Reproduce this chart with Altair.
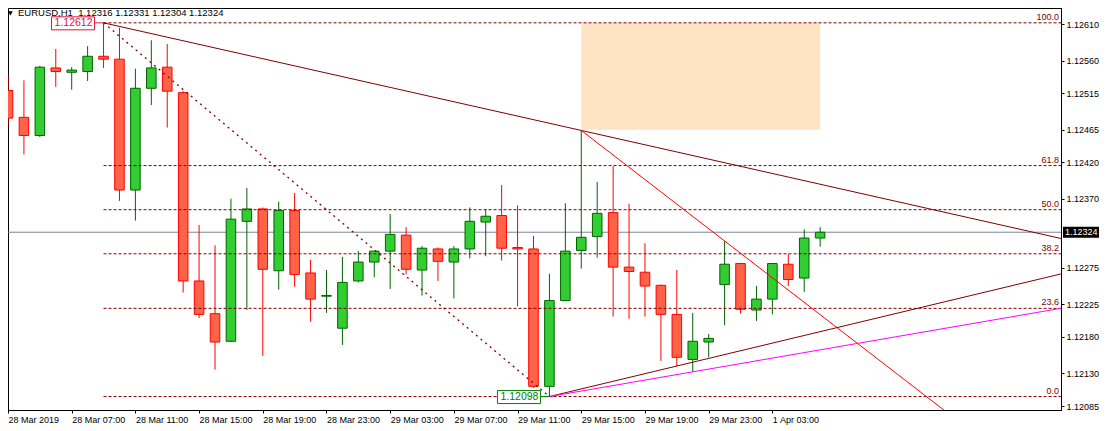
import json
import altair as alt
import pandas as pd

# ---------------- data ----------------
header_text = "EURUSD,H1\u00a0\u00a01.12316 1.12331 1.12304 1.12324"

tick_bar_labels = ["28 Mar 2019", "28 Mar 07:00", "28 Mar 11:00", "28 Mar 15:00",
                   "28 Mar 19:00", "28 Mar 23:00", "29 Mar 03:00", "29 Mar 07:00",
                   "29 Mar 11:00", "29 Mar 15:00", "29 Mar 19:00", "29 Mar 23:00",
                   "1 Apr 03:00"]
tick_bars = [0, 4, 8, 12, 16, 20, 24, 28, 32, 36, 40, 44, 48]

price_ticks = [1.12610, 1.12560, 1.12515, 1.12465, 1.12420, 1.12370,
               1.12275, 1.12225, 1.12180, 1.12130, 1.12085]

opens = [1.12519, 1.12482, 1.12457, 1.12550, 1.12544, 1.12545, 1.12566, 1.12562,
         1.12382, 1.12522, 1.12551, 1.12516, 1.12257, 1.12212, 1.12174, 1.12339,
         1.12356, 1.12271, 1.12354, 1.12268, 1.12236, 1.12192, 1.12257, 1.12283,
         1.12298, 1.12320, 1.12272, 1.12301, 1.12283, 1.12301, 1.12338, 1.12347,
         1.12303, 1.12301, 1.12112, 1.12230, 1.12299, 1.12318, 1.12351, 1.12276,
         1.12269, 1.12251, 1.12211, 1.12149, 1.12173, 1.12252, 1.12281, 1.12217,
         1.12232, 1.12280, 1.12261, 1.12316]
highs = [1.12540, 1.12533, 1.12553, 1.12576, 1.12551, 1.12580, 1.12612, 1.12605,
         1.12549, 1.12588, 1.12583, 1.12518, 1.12334, 1.12306, 1.12370, 1.12385,
         1.12358, 1.12366, 1.12378, 1.12286, 1.12272, 1.12290, 1.12298, 1.12298,
         1.12349, 1.12331, 1.12305, 1.12303, 1.12305, 1.12358, 1.12356, 1.12389,
         1.12361, 1.12319, 1.12267, 1.12364, 1.12464, 1.12393, 1.12415, 1.12363,
         1.12309, 1.12252, 1.12272, 1.12213, 1.12184, 1.12312, 1.12281, 1.12250,
         1.12281, 1.12294, 1.12328, 1.12331]
lows = [1.12471, 1.12431, 1.12455, 1.12524, 1.12520, 1.12532, 1.12550, 1.12367,
        1.12340, 1.12499, 1.12468, 1.12241, 1.12206, 1.12135, 1.12173, 1.12217,
        1.12154, 1.12245, 1.12249, 1.12201, 1.12213, 1.12169, 1.12255, 1.12262,
        1.12246, 1.12266, 1.12237, 1.12257, 1.12233, 1.12288, 1.12291, 1.12285,
        1.12222, 1.12110, 1.12098, 1.12229, 1.12274, 1.12289, 1.12208, 1.12205,
        1.12208, 1.12147, 1.12140, 1.12132, 1.12152, 1.12196, 1.12212, 1.12202,
        1.12211, 1.12250, 1.12242, 1.12304]
closes = [1.12481, 1.12457, 1.12551, 1.12545, 1.12547, 1.12566, 1.12562, 1.12382,
          1.12522, 1.12550, 1.12518, 1.12257, 1.12211, 1.12173, 1.12342, 1.12356,
          1.12273, 1.12354, 1.12266, 1.12232, 1.12237, 1.12255, 1.12283, 1.12298,
          1.12321, 1.12273, 1.12302, 1.12284, 1.12301, 1.12339, 1.12346, 1.12302,
          1.12301, 1.12112, 1.12230, 1.12298, 1.12317, 1.12350, 1.12276, 1.12270,
          1.12250, 1.12211, 1.12152, 1.12174, 1.12178, 1.12280, 1.12218, 1.12232,
          1.12281, 1.12259, 1.12316, 1.12324]

last_price = 1.12324

fib_pcts = [0.0, 23.6, 38.2, 50.0, 61.8, 100.0]
fib_high_bar, fib_high = 6, 1.12612
fib_low_bar, fib_low = 34, 1.12098

# trendline anchors (bar, price)
trend_down_anchor = [(6, 1.12612), (36, 1.12464)]
trend_red_anchor = [(36, 1.12464), (45, 1.12312)]
trend_up_anchor = [(34, 1.12098), (42, 1.12140)]
trend_mag_anchor = [(34, 1.12098), (43, 1.12132)]

zone_bars = [36, 51]
zone_prices = [1.12465, 1.12612]

# ---------------- layout ----------------
W, H = 1053, 402
XMIN, XMAX = 0.0, 66.125
YMIN, YMAX = 1.120795, 1.126324
FONT = "Liberation Sans"
MAROON = "#800000"

xs = alt.Scale(domain=[XMIN, XMAX], nice=False, zero=False)
ys = alt.Scale(domain=[YMIN, YMAX], nice=False, zero=False)

label_expr = "[" + ",".join(json.dumps(s) for s in tick_bar_labels) + "][round(datum.value / 4)]"
x_axis = alt.Axis(values=tick_bars, labelExpr=label_expr, labelAlign="left", labelFlush=False,
                  labelPadding=2, tickSize=3, title=None, grid=False, labelFontSize=9,
                  labelFont=FONT, labelColor="#000000", tickColor="#000000",
                  domainColor="#000000", labelOverlap=False, labelBaseline="top")
y_axis = alt.Axis(orient="right", values=price_ticks, format=".5f", labelPadding=2, tickSize=3,
                  title=None, grid=False, labelFontSize=9, labelFont=FONT,
                  labelColor="#000000", tickColor="#000000", domainColor="#000000",
                  labelOverlap=False, labelFlush=False)


def X(f):
    return alt.X(f"{f}:Q", scale=xs, axis=x_axis)


def Y(f):
    return alt.Y(f"{f}:Q", scale=ys, axis=y_axis)


# ---------------- tables ----------------
n = len(opens)
candles = pd.DataFrame({"i": list(range(n)), "open": opens, "high": highs,
                        "low": lows, "close": closes})
up = candles["close"] >= candles["open"]
candles["wick"] = up.map({True: "#006400", False: "#FF0000"})
candles["fill"] = up.map({True: "#32CD32", False: "#FF6347"})
candles["xl"] = candles["i"] - 0.3
candles["xr"] = candles["i"] + 0.3

zone = pd.DataFrame({"x0": [zone_bars[0]], "x1": [zone_bars[1]],
                     "p0": [zone_prices[0]], "p1": [zone_prices[1]]})

fib = pd.DataFrame({"pct": fib_pcts})
fib["level"] = fib_low + fib["pct"] / 100.0 * (fib_high - fib_low)
fib["label"] = fib["pct"].map(lambda v: f"{v:.1f}")
fib["x0"] = fib_high_bar
fib["x1"] = XMAX

fib_diag = pd.DataFrame({"x0": [fib_high_bar], "x1": [fib_low_bar],
                         "p0": [fib_high], "p1": [fib_low]})


def extend(anchor, color):
    (b0, p0), (b1, p1) = anchor
    slope = (p1 - p0) / (b1 - b0)
    return {"x0": b0, "p0": p0, "x1": XMAX, "p1": p0 + slope * (XMAX - b0), "col": color}


trends = pd.DataFrame([extend(trend_down_anchor, MAROON),
                       extend(trend_red_anchor, "#FF0000"),
                       extend(trend_up_anchor, MAROON),
                       extend(trend_mag_anchor, "#FF00FF")])

tags = pd.DataFrame({"bar": [fib_high_bar, fib_low_bar], "price": [fib_high, fib_low],
                     "text": [f"{fib_high:.5f}", f"{fib_low:.5f}"],
                     "col": ["#DC143C", "#008000"]})

last_df = pd.DataFrame({"price": [last_price], "text": [f"{last_price:.5f}"]})
header_df = pd.DataFrame({"t": [header_text]})
tri_df = pd.DataFrame({"t": ["\u25bc"]})

# ---------------- layers ----------------
zone_layer = alt.Chart(zone).mark_rect(color="#FFE4C4", clip=True).encode(
    x=X("x0"), x2=alt.X2("x1:Q"), y=Y("p0"), y2=alt.Y2("p1:Q"))

last_line = alt.Chart(last_df).mark_rule(color="#778899", strokeWidth=1).encode(y=Y("price"))

wicks = alt.Chart(candles).mark_rule(strokeWidth=1, clip=True).encode(
    x=X("i"), y=Y("low"), y2=alt.Y2("high:Q"),
    color=alt.Color("wick:N", scale=None, legend=None))

bodies = alt.Chart(candles).mark_rect(strokeWidth=1, clip=True).encode(
    x=X("xl"), x2=alt.X2("xr:Q"), y=Y("open"), y2=alt.Y2("close:Q"),
    fill=alt.Fill("fill:N", scale=None, legend=None),
    stroke=alt.Stroke("wick:N", scale=None, legend=None))

fib_lines = alt.Chart(fib).mark_rule(color=MAROON, strokeDash=[3, 2], strokeWidth=1).encode(
    x=X("x0"), x2=alt.X2("x1:Q"), y=Y("level"))

fib_diag_layer = alt.Chart(fib_diag).mark_rule(color=MAROON, strokeDash=[2, 4], strokeWidth=1.3).encode(
    x=X("x0"), x2=alt.X2("x1:Q"), y=Y("p0"), y2=alt.Y2("p1:Q"))

trend_layer = alt.Chart(trends).mark_rule(strokeWidth=1, clip=True).encode(
    x=X("x0"), x2=alt.X2("x1:Q"), y=Y("p0"), y2=alt.Y2("p1:Q"),
    color=alt.Color("col:N", scale=None, legend=None))

fib_text = alt.Chart(fib).mark_text(align="right", baseline="bottom", dx=-2, dy=-1,
                                    color=MAROON, font=FONT, fontSize=9).encode(
    x=X("x1"), y=Y("level"), text="label:N")

tag_box = alt.Chart(tags).mark_rect(xOffset=-52, x2Offset=-9, yOffset=-6, y2Offset=7,
                                    fill="white", strokeWidth=1).encode(
    x=X("bar"), x2=alt.X2("bar:Q"), y=Y("price"), y2=alt.Y2("price:Q"),
    stroke=alt.Stroke("col:N", scale=None, legend=None))

tag_link = alt.Chart(tags).mark_rule(xOffset=-9, strokeWidth=1).encode(
    x=X("bar"), x2=alt.X2("bar:Q"), y=Y("price"),
    color=alt.Color("col:N", scale=None, legend=None))

tag_text = alt.Chart(tags).mark_text(dx=-30, align="center", baseline="middle",
                                     font=FONT, fontSize=10.5).encode(
    x=X("bar"), y=Y("price"), text="text:N",
    color=alt.Color("col:N", scale=None, legend=None))

last_box = alt.Chart(last_df).mark_rule(color="#000000", strokeWidth=11).encode(
    y=Y("price"), x=alt.value(W + 2), x2=alt.value(W + 38))

last_text = alt.Chart(last_df).mark_text(align="left", baseline="middle", color="#FFFFFF",
                                         font=FONT, fontSize=9).encode(
    y=Y("price"), x=alt.value(W + 4), text="text:N")

header = alt.Chart(header_df).mark_text(align="left", baseline="top", color="#000000",
                                        font=FONT, fontSize=9.5).encode(
    x=alt.value(10), y=alt.value(-0.5), text="t:N")

tri = alt.Chart(tri_df).mark_text(align="left", baseline="top", color="#000000",
                                  font="DejaVu Sans", fontSize=6).encode(
    x=alt.value(0), y=alt.value(2), text="t:N")

chart = alt.layer(
    zone_layer, last_line, wicks, bodies, fib_lines, fib_diag_layer, trend_layer,
    fib_text, tag_link, tag_box, tag_text, last_box, last_text, header, tri
).properties(
    width=W, height=H,
    autosize=alt.AutoSizeParams(type="none"),
    padding={"left": 0, "top": 0, "right": 38, "bottom": 21},
    background="#FFFFFF",
).configure_view(stroke="#000000", strokeWidth=1)

chart.save("out.html", embed_options={"renderer": "svg", "actions": False})
